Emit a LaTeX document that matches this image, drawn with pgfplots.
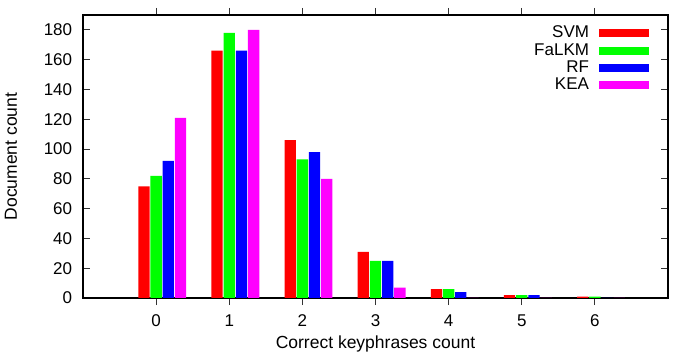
\documentclass[border=0pt]{standalone}
\usepackage{fontspec}
\setmainfont{Liberation Sans}
\usepackage{pgfplots}
\pgfplotsset{compat=1.18}
\definecolor{cRed}{RGB}{255,0,0}
\definecolor{cGreen}{RGB}{0,255,0}
\definecolor{cBlue}{RGB}{0,0,255}
\definecolor{cMag}{RGB}{255,0,255}
\begin{document}
\fontsize{17}{20}\selectfont
\begin{tikzpicture}
\path[use as bounding box] (-83pt,-60pt) rectangle (596pt,298pt);
\begin{axis}[
 at={(0pt,0pt)}, anchor=south west,
 scale only axis, width=585pt, height=283pt,
 xmin=-1, xmax=7, ymin=0, ymax=190,
 xtick={0,...,6}, ytick={0,20,...,180},
 tick align=inside, major tick length=7pt,
 axis line style={line width=1.1pt},
 tick style={line width=0.8pt, color=black!80},
 /pgf/number format/assume math mode=true,
 ticklabel style={font=\fontsize{17}{20}\selectfont},
 yticklabel style={xshift=-5pt},
 xticklabel style={anchor=base, yshift=-21pt},
 xlabel={Correct keyphrases count},
 ylabel={Document count},
 label style={font=\fontsize{17.5}{20}\selectfont},
 xlabel style={at={(axis description cs:0.5,-0.1777)}, anchor=base},
 ylabel style={at={(axis description cs:-0.1231,0.5)}, anchor=center},
 ybar,
 legend style={draw=none, fill=none, at={(axis description cs:1,1)}, anchor=north east,
   xshift=-19pt, yshift=-11pt, inner sep=0pt, outer sep=0pt, row sep=3pt,
   column sep=10pt,
   nodes={inner sep=0pt}, font=\fontsize{17}{20}\selectfont},
 legend plot pos=right, legend cell align=right,
 legend image code/.code={\fill[#1] (0pt,-4pt) rectangle (50pt,4pt);},
]
\addplot[fill=cRed, draw=none, bar width=0.155, bar shift=-0.1667]
 coordinates {(0,75) (1,166) (2,106) (3,31) (4,6) (5,2) (6,1)};
\addplot[fill=cGreen, draw=none, bar width=0.155, bar shift=0]
 coordinates {(0,82) (1,178) (2,93) (3,25) (4,6) (5,2) (6,1)};
\addplot[fill=cBlue, draw=none, bar width=0.155, bar shift=0.1667]
 coordinates {(0,92) (1,166) (2,98) (3,25) (4,4) (5,2) (6,0)};
\addplot[fill=cMag, draw=none, bar width=0.155, bar shift=0.3333]
 coordinates {(0,121) (1,180) (2,80) (3,7) (4,0) (5,0) (6,0)};
\legend{SVM,FaLKM,RF,KEA}
\end{axis}
\end{tikzpicture}
\end{document}
